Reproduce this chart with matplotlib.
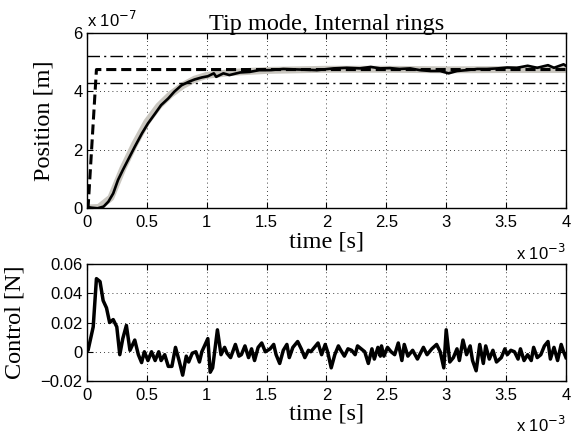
import numpy as np
import matplotlib
matplotlib.use("Agg")
import matplotlib.pyplot as plt

# time axis in units of 1e-3 s, position in units of 1e-7 m
t_pos = [0.0, 0.01, 0.04, 0.09, 0.14, 0.18, 0.22, 0.26, 0.30, 0.35, 0.40, 0.46, 0.51,
         0.57, 0.62, 0.68, 0.73, 0.79, 0.85, 0.90, 0.96, 1.01, 1.06, 1.08, 1.14, 1.19,
         1.28, 1.36, 1.44, 1.53, 1.64, 1.78, 1.92, 2.06, 2.17, 2.28, 2.37, 2.45, 2.53,
         2.61, 2.70, 2.78, 2.87, 2.95, 3.02, 3.09, 3.17, 3.26, 3.34, 3.43, 3.51, 3.59,
         3.68, 3.76, 3.85, 3.90, 3.98, 4.0]
pos = [0.08, 0.03, 0.01, -0.01, 0.05, 0.22, 0.50, 0.96, 1.30, 1.70, 2.10, 2.56, 2.90,
       3.24, 3.53, 3.76, 3.99, 4.21, 4.33, 4.41, 4.48, 4.52, 4.62, 4.50, 4.62, 4.56,
       4.65, 4.67, 4.73, 4.73, 4.77, 4.75, 4.73, 4.79, 4.81, 4.79, 4.84, 4.79, 4.80,
       4.77, 4.79, 4.73, 4.70, 4.70, 4.62, 4.70, 4.73, 4.77, 4.77, 4.79, 4.82, 4.81,
       4.88, 4.81, 4.90, 4.81, 4.93, 4.88]

t_sim = [0.0, 0.1, 0.2, 0.3, 0.4, 0.5, 0.6, 0.7, 0.8, 0.9, 1.0, 1.2, 1.5, 2.0, 2.5, 3.0, 3.5, 4.0]
pos_sim = [0.0, 0.02, 0.35, 1.35, 2.2, 2.95, 3.5, 3.9, 4.2, 4.42, 4.55, 4.65, 4.72, 4.76,
           4.76, 4.74, 4.75, 4.75]

t_ref = [0.0, 0.01, 0.08, 4.0]
pos_ref = [0.0, 0.0, 4.75, 4.75]
band_hi = 5.225
band_lo = 4.275

t_u = [0.0, 0.01, 0.053, 0.08, 0.11, 0.136, 0.164, 0.19, 0.22, 0.25, 0.275, 0.30, 0.33,
       0.36, 0.40, 0.43, 0.457, 0.48, 0.51, 0.54, 0.57, 0.60, 0.62, 0.65, 0.68, 0.71,
       0.74, 0.77, 0.80, 0.83, 0.85, 0.88, 0.91, 0.94, 0.96, 1.01, 1.03, 1.05, 1.09,
       1.12, 1.15, 1.17, 1.20, 1.24, 1.27, 1.29, 1.32, 1.35, 1.375, 1.40, 1.43, 1.46,
       1.49, 1.53, 1.56, 1.58, 1.61, 1.64, 1.67, 1.69, 1.72, 1.76, 1.79, 1.82, 1.85,
       1.87, 1.90, 1.93, 1.96, 1.99, 2.01, 2.04, 2.07, 2.10, 2.12, 2.15, 2.18, 2.21,
       2.24, 2.26, 2.29, 2.32, 2.35, 2.38, 2.40, 2.43, 2.45, 2.46, 2.48, 2.51, 2.54,
       2.57, 2.60, 2.63, 2.65, 2.68, 2.72, 2.76, 2.81, 2.84, 2.88, 2.92, 2.95, 2.98,
       3.00, 3.03, 3.06, 3.09, 3.11, 3.14, 3.17, 3.20, 3.22, 3.25, 3.28, 3.31, 3.33,
       3.36, 3.39, 3.42, 3.46, 3.49, 3.51, 3.54, 3.57, 3.60, 3.62, 3.65, 3.68, 3.71,
       3.73, 3.76, 3.79, 3.82, 3.85, 3.87, 3.90, 3.93, 3.96, 3.98, 4.0]
u = [0.003, 0.001, 0.017, 0.050, 0.048, 0.035, 0.030, 0.020, 0.022, 0.017, -0.002, 0.009,
     0.018, 0.001, 0.008, -0.002, -0.0074, 0.0, -0.006, 0.0, -0.006, 0.0, -0.006, -0.002,
     -0.010, -0.010, 0.003, -0.006, -0.016, -0.003, -0.007, -0.001, 0.0, -0.007, 0.0,
     0.009, -0.014, -0.011, 0.015, -0.002, 0.003, -0.001, -0.004, 0.005, -0.003, -0.002,
     0.004, -0.004, 0.002, -0.006, 0.003, 0.006, 0.0, 0.002, 0.005, -0.002, -0.008,
     0.001, 0.005, -0.004, 0.003, 0.007, 0.002, -0.004, 0.001, 0.0, 0.003, 0.006, -0.002,
     0.005, 0.0, -0.011, -0.002, 0.004, 0.001, -0.003, 0.002, 0.001, -0.002, 0.004,
     0.002, 0.0, -0.008, 0.002, -0.005, 0.003, -0.003, 0.004, -0.003, 0.003, 0.0,
     -0.002, 0.006, -0.006, 0.005, -0.003, 0.001, -0.005, 0.003, -0.002, 0.002, 0.005,
     0.0, -0.011, 0.015, -0.007, -0.004, 0.002, -0.006, 0.008, -0.002, 0.004, -0.006,
     -0.013, 0.005, -0.008, 0.004, -0.005, 0.001, -0.007, -0.004, 0.002, -0.002, 0.001,
     0.0, -0.005, 0.002, -0.006, -0.002, -0.006, 0.003, -0.004, -0.002, 0.004, 0.007,
     -0.005, 0.003, -0.006, 0.005, 0.0, -0.004]

xticks = [0, 0.5, 1, 1.5, 2, 2.5, 3, 3.5, 4]
xticklabels = ["0", "0.5", "1", "1.5", "2", "2.5", "3", "3.5", "4"]

serif = "Liberation Serif"
sans = "Liberation Sans"
plt.rcParams["font.family"] = sans
plt.rcParams["font.size"] = 12

fig = plt.figure(figsize=(5.79, 4.34), dpi=100)
ax1 = fig.add_axes([0.150, 0.5207, 0.8275, 0.403])
ax2 = fig.add_axes([0.150, 0.1221, 0.8275, 0.2696])

# top: position
ax1.plot(t_sim, pos_sim, color="#c9c6bf", lw=5, solid_capstyle="butt")
ax1.axhline(band_hi, color="black", lw=1.0, ls=(0, (9, 3, 1.5, 3)))
ax1.axhline(band_lo, color="black", lw=1.0, ls=(0, (9, 3, 1.5, 3)))
ax1.plot(t_ref, pos_ref, color="black", lw=2.2, ls=(0, (3.3, 1.6)))
ax1.plot(t_pos, pos, color="black", lw=1.9, solid_joinstyle="round")
ax1.set_xlim(0, 4)
ax1.set_ylim(0, 6)
ax1.set_yticks([0, 2, 4, 6])
ax1.set_xticks(xticks)
ax1.set_xticklabels(xticklabels)
ax1.set_title("Tip mode, Internal rings", family=serif, fontsize=17.5, pad=2)
ax1.set_ylabel("Position [m]", family=serif, fontsize=17.5)
ax1.set_xlabel("time [s]", family=serif, fontsize=17.5)
ax1.yaxis.set_label_coords(-0.067, 0.5)
ax1.xaxis.set_label_coords(0.5, -0.135)

# bottom: control
ax2.plot(t_u, u, color="black", lw=2.5, solid_joinstyle="round")
ax2.set_xlim(0, 4)
ax2.set_ylim(-0.02, 0.06)
ax2.set_yticks([-0.02, 0, 0.02, 0.04, 0.06])
ax2.set_yticklabels(["\u22120.02", "0", "0.02", "0.04", "0.06"])
ax2.set_xticks(xticks)
ax2.set_xticklabels(xticklabels)
ax2.set_ylabel("Control [N]", family=serif, fontsize=17.5)
ax2.set_xlabel("time [s]", family=serif, fontsize=17.5)
ax2.yaxis.set_label_coords(-0.129, 0.5)
ax2.xaxis.set_label_coords(0.5, -0.19)

for ax in (ax1, ax2):
    ax.grid(True, color="black", ls=(0, (1, 4)), lw=0.6)
    ax.tick_params(direction="in", top=True, right=True, length=4, width=0.8, pad=3)
    ax.tick_params(axis="x", pad=5)
    for s in ax.spines.values():
        s.set_linewidth(1.0)

fig.text(87 / 579, 1 - 20 / 434, "x 10$^{-7}$", ha="left", va="center", fontsize=12)
fig.text(566 / 579, 1 - 253 / 434, "x 10$^{-3}$", ha="right", va="center", fontsize=12)
fig.text(566 / 579, 1 - 425 / 434, "x 10$^{-3}$", ha="right", va="center", fontsize=12)

fig.savefig("out.png", dpi=100)
